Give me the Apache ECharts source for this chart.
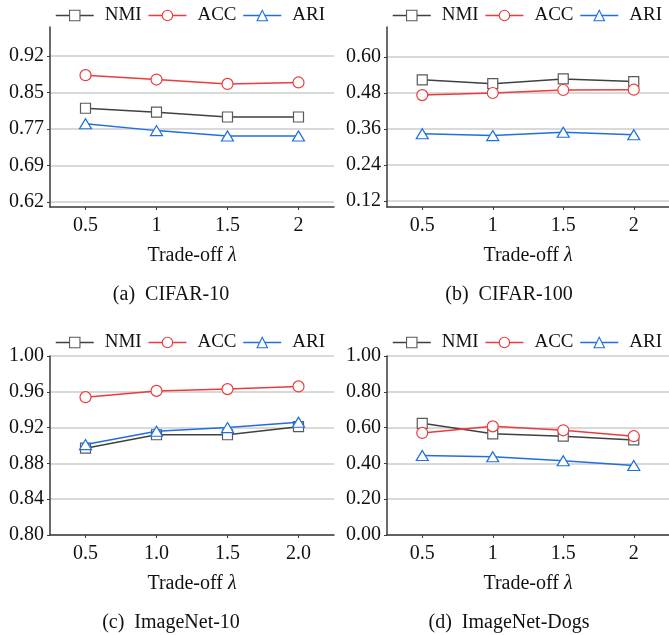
<!DOCTYPE html>
<html>
<head>
<meta charset="utf-8">
<script src="https://cdn.jsdelivr.net/npm/echarts@6/dist/echarts.min.js"></script>
<style>html,body{margin:0;padding:0;background:#fff;}#c{width:669px;height:635px;}</style>
</head>
<body>
<div id="c"></div>
<script>
// ---- data ----
const lambdas = ['0.5', '1', '1.5', '2'];
const lambdasC = ['0.5', '1.0', '1.5', '2.0'];
const seriesNames = ['NMI', 'ACC', 'ARI'];

const nmiA = [0.813, 0.805, 0.795, 0.795];
const accA = [0.881, 0.872, 0.863, 0.866];
const ariA = [0.781, 0.767, 0.756, 0.756];

const nmiB = [0.524, 0.511, 0.527, 0.518];
const accB = [0.473, 0.480, 0.490, 0.491];
const ariB = [0.344, 0.338, 0.349, 0.341];

const nmiC = [0.897, 0.912, 0.912, 0.921];
const accC = [0.954, 0.961, 0.963, 0.966];
const ariC = [0.901, 0.916, 0.920, 0.926];

const nmiD = [0.624, 0.565, 0.552, 0.531];
const accD = [0.570, 0.607, 0.585, 0.552];
const ariD = [0.444, 0.437, 0.415, 0.388];

const yTickValsA = [0.62, 0.695, 0.77, 0.845, 0.92];
const yTickLabelsA = ['0.62', '0.69', '0.77', '0.85', '0.92'];
const yTickValsB = [0.12, 0.24, 0.36, 0.48, 0.60];
const yTickLabelsB = ['0.12', '0.24', '0.36', '0.48', '0.60'];

const captions = ['(a)  CIFAR-10', '(b)  CIFAR-100', '(c)  ImageNet-10', '(d)  ImageNet-Dogs'];
const xTitle = 'Trade-off {i|λ}';

// ---- style ----
const FONT = '"Liberation Serif", "Times New Roman", serif';
const TXT = '#111';
const colors = { NMI: '#404040', ACC: '#ee3a3c', ARI: '#1f6fe0' };
const borderColors = { NMI: '#5a5a5a', ACC: '#ee3a3c', ARI: '#1f6fe0' };
const symbols = { NMI: 'rect', ACC: 'circle', ARI: 'triangle' };
const symbolSizes = { NMI: 10, ACC: 11, ARI: [12, 10] };

const grids = [
  { left: 50, top: 27, width: 284, height: 180 },
  { left: 387, top: 27, width: 284, height: 180 },
  { left: 50, top: 356, width: 284, height: 179 },
  { left: 387, top: 356, width: 284, height: 179 }
];

function labelFrom(vals, labels) {
  return function (v) {
    let best = 0, bd = Infinity;
    vals.forEach((t, i) => { const d = Math.abs(t - v); if (d < bd) { bd = d; best = i; } });
    return labels[best];
  };
}

const axisLineStyle = { show: true, lineStyle: { color: '#3a3a3a', width: 1.5 } };
const tickStyle = { show: true, length: 3, inside: false, lineStyle: { color: '#3a3a3a', width: 1 } };
const splitStyle = { show: true, lineStyle: { color: '#cdcdcd', width: 1.5 } };
const yLabel = { fontFamily: FONT, fontSize: 20, color: TXT, margin: 6 };

const xAxes = [0, 1, 2, 3].map(i => ({
  type: 'category',
  gridIndex: i,
  data: i === 2 ? lambdasC : lambdas,
  boundaryGap: true,
  axisLine: axisLineStyle,
  axisTick: Object.assign({ alignWithLabel: true }, tickStyle),
  axisLabel: { fontFamily: FONT, fontSize: 20, color: TXT, margin: 9 },
  splitLine: { show: false },
  name: xTitle,
  nameLocation: 'middle',
  nameGap: 39,
  nameTextStyle: {
    fontFamily: FONT, fontSize: 20, color: TXT,
    rich: { i: { fontFamily: FONT, fontSize: 20, fontStyle: 'italic', color: TXT } }
  }
}));

const yAxes = [
  {
    type: 'value', gridIndex: 0, min: 0.61, max: 0.98,
    axisLine: axisLineStyle,
    axisTick: Object.assign({ customValues: yTickValsA }, tickStyle),
    axisLabel: Object.assign({ customValues: yTickValsA, formatter: labelFrom(yTickValsA, yTickLabelsA) }, yLabel),
    splitLine: splitStyle
  },
  {
    type: 'value', gridIndex: 1, min: 0.1, max: 0.7,
    axisLine: axisLineStyle,
    axisTick: Object.assign({ customValues: yTickValsB }, tickStyle),
    axisLabel: Object.assign({ customValues: yTickValsB, formatter: labelFrom(yTickValsB, yTickLabelsB) }, yLabel),
    splitLine: splitStyle
  },
  {
    type: 'value', gridIndex: 2, min: 0.8, max: 1.0, interval: 0.04,
    axisLine: axisLineStyle,
    axisTick: tickStyle,
    axisLabel: Object.assign({ formatter: v => v.toFixed(2) }, yLabel),
    splitLine: splitStyle
  },
  {
    type: 'value', gridIndex: 3, min: 0, max: 1.0, interval: 0.2,
    axisLine: axisLineStyle,
    axisTick: tickStyle,
    axisLabel: Object.assign({ formatter: v => v.toFixed(2) }, yLabel),
    splitLine: splitStyle
  }
];

const panelData = [
  { NMI: nmiA, ACC: accA, ARI: ariA },
  { NMI: nmiB, ACC: accB, ARI: ariB },
  { NMI: nmiC, ACC: accC, ARI: ariC },
  { NMI: nmiD, ACC: accD, ARI: ariD }
];

const series = [];
panelData.forEach((pd, i) => {
  seriesNames.forEach(name => {
    series.push({
      type: 'line',
      name: name,
      xAxisIndex: i,
      yAxisIndex: i,
      data: pd[name],
      symbol: symbols[name],
      symbolSize: symbolSizes[name],
      showAllSymbol: true,
      lineStyle: { color: colors[name], width: 1.5 },
      itemStyle: { color: '#ffffff', borderColor: borderColors[name], borderWidth: 1.2 },
      emphasis: { disabled: true },
      animation: false,
      z: name === 'NMI' ? 2 : 3
    });
  });
});

const legends = grids.map(g => ({
  data: seriesNames,
  left: g.left + 5,
  top: g.top === 27 ? 6 : 333,
  orient: 'horizontal',
  padding: 0,
  itemWidth: 38,
  itemHeight: 13,
  itemGap: 6,
  selectedMode: false,
  itemStyle: { borderWidth: 1.1 },
  lineStyle: { width: 1.5 },
  textStyle: { fontFamily: FONT, fontSize: 19, color: TXT, padding: [0, 0, 0, 6] }
}));

const captionPos = [[171, 295], [509, 295], [171, 623], [509, 623]];
const graphics = captions.map((t, i) => ({
  type: 'text',
  x: captionPos[i][0],
  y: captionPos[i][1],
  style: { text: t, font: '20px ' + FONT, fill: TXT, textAlign: 'center', textVerticalAlign: 'middle' }
}));

const chart = echarts.init(document.getElementById('c'), null, { renderer: 'canvas' });
chart.setOption({
  animation: false,
  backgroundColor: '#ffffff',
  grid: grids,
  xAxis: xAxes,
  yAxis: yAxes,
  legend: legends,
  series: series,
  graphic: graphics
});
</script>
</body>
</html>
